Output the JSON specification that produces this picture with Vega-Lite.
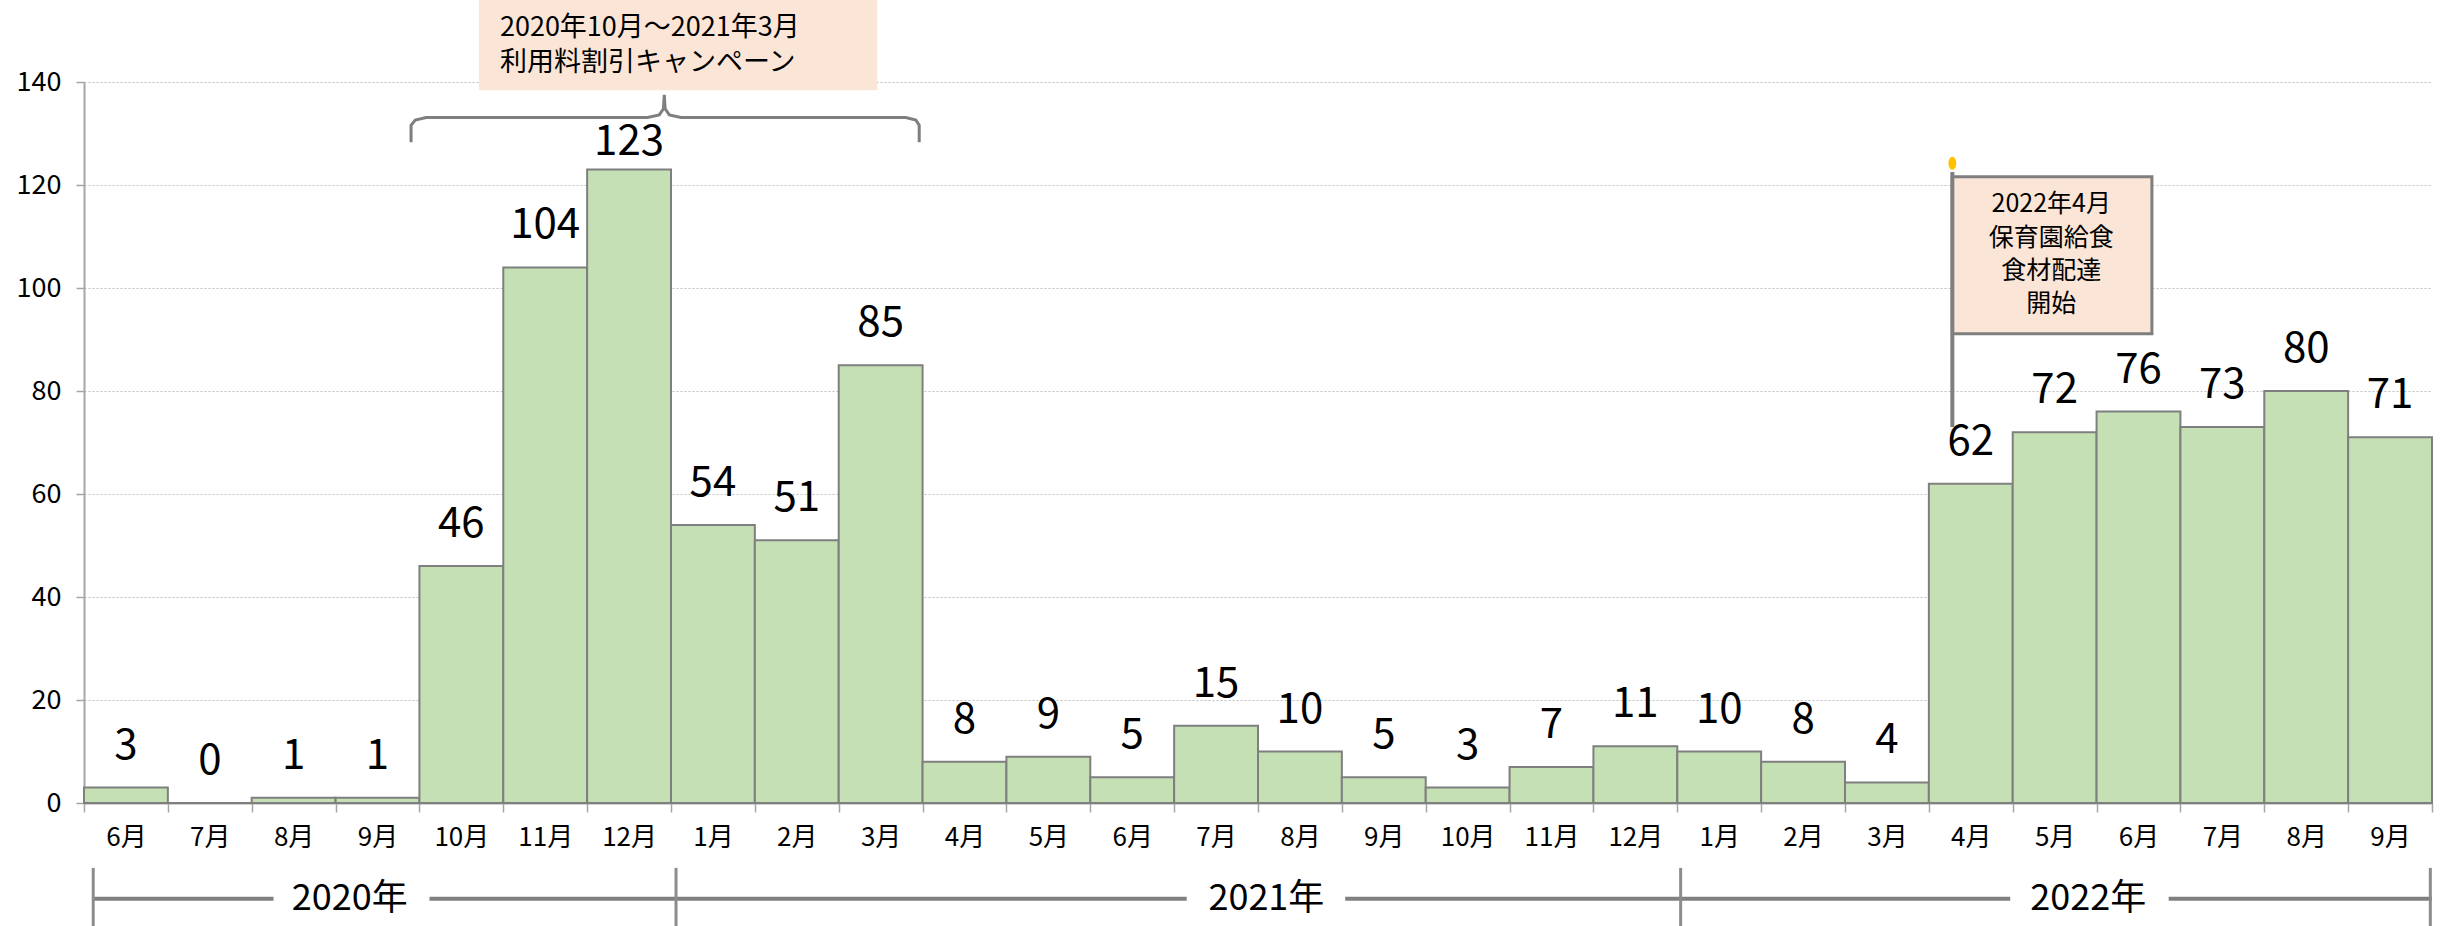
{
  "$schema": "https://vega.github.io/schema/vega-lite/v6.json",
  "width": 2348,
  "height": 721,
  "autosize": {"type": "none"},
  "padding": {"left": 84, "top": 82, "right": 16, "bottom": 123},
  "background": "white",
  "config": {"view": {"stroke": null}, "font": "Noto Sans CJK JP", "text": {"font": "Noto Sans CJK JP"}},
  "datasets": {
    "bars": [
      {"ym": "2020-06", "start": 0, "end": 1, "count": 3},
      {"ym": "2020-07", "start": 1, "end": 2, "count": 0},
      {"ym": "2020-08", "start": 2, "end": 3, "count": 1},
      {"ym": "2020-09", "start": 3, "end": 4, "count": 1},
      {"ym": "2020-10", "start": 4, "end": 5, "count": 46},
      {"ym": "2020-11", "start": 5, "end": 6, "count": 104},
      {"ym": "2020-12", "start": 6, "end": 7, "count": 123},
      {"ym": "2021-01", "start": 7, "end": 8, "count": 54},
      {"ym": "2021-02", "start": 8, "end": 9, "count": 51},
      {"ym": "2021-03", "start": 9, "end": 10, "count": 85},
      {"ym": "2021-04", "start": 10, "end": 11, "count": 8},
      {"ym": "2021-05", "start": 11, "end": 12, "count": 9},
      {"ym": "2021-06", "start": 12, "end": 13, "count": 5},
      {"ym": "2021-07", "start": 13, "end": 14, "count": 15},
      {"ym": "2021-08", "start": 14, "end": 15, "count": 10},
      {"ym": "2021-09", "start": 15, "end": 16, "count": 5},
      {"ym": "2021-10", "start": 16, "end": 17, "count": 3},
      {"ym": "2021-11", "start": 17, "end": 18, "count": 7},
      {"ym": "2021-12", "start": 18, "end": 19, "count": 11},
      {"ym": "2022-01", "start": 19, "end": 20, "count": 10},
      {"ym": "2022-02", "start": 20, "end": 21, "count": 8},
      {"ym": "2022-03", "start": 21, "end": 22, "count": 4},
      {"ym": "2022-04", "start": 22, "end": 23, "count": 62},
      {"ym": "2022-05", "start": 23, "end": 24, "count": 72},
      {"ym": "2022-06", "start": 24, "end": 25, "count": 76},
      {"ym": "2022-07", "start": 25, "end": 26, "count": 73},
      {"ym": "2022-08", "start": 26, "end": 27, "count": 80},
      {"ym": "2022-09", "start": 27, "end": 28, "count": 71}
    ],
    "brace": [
      {"o": 1, "x": 3.9, "y": 128.3},
      {"o": 2, "x": 3.9, "y": 131.6},
      {"o": 3, "x": 3.95, "y": 132.6},
      {"o": 4, "x": 4.08, "y": 133.1},
      {"o": 5, "x": 6.72, "y": 133.1},
      {"o": 6, "x": 6.86, "y": 133.6},
      {"o": 7, "x": 6.91, "y": 134.8},
      {"o": 8, "x": 6.92, "y": 137.5},
      {"o": 9, "x": 6.93, "y": 134.8},
      {"o": 10, "x": 6.98, "y": 133.6},
      {"o": 11, "x": 7.12, "y": 133.1},
      {"o": 12, "x": 9.8, "y": 133.1},
      {"o": 13, "x": 9.92, "y": 132.6},
      {"o": 14, "x": 9.96, "y": 131.6},
      {"o": 15, "x": 9.96, "y": 128.3}
    ],
    "boxes": [
      {"name": "campaign", "x1": 4.71, "x2": 9.46, "y1": 138.4, "y2": 155.9},
      {"name": "start", "x1": 22.28, "x2": 24.66, "y1": 91.1, "y2": 121.6}
    ],
    "campaignText": [
      {"x": 4.96, "y": 150.5, "t": "2020年10月～2021年3月"},
      {"x": 4.96, "y": 143.7, "t": "利用料割引キャンペーン"}
    ],
    "flagText": [
      {"x": 23.46, "y": 116.3, "t": "2022年4月"},
      {"x": 23.46, "y": 109.7, "t": "保育園給食"},
      {"x": 23.46, "y": 103.3, "t": "食材配達"},
      {"x": 23.46, "y": 96.9, "t": "開始"}
    ],
    "pole": [{"x": 22.28, "y1": 73.0, "y2": 122.5, "dotY": 124.2}],
    "yearLines": [
      {"x1": 0.12, "x2": 2.26, "y": -18.6},
      {"x1": 4.12, "x2": 13.15, "y": -18.6},
      {"x1": 15.04, "x2": 22.97, "y": -18.6},
      {"x1": 24.86, "x2": 28.0, "y": -18.6}
    ],
    "yearTicks": [
      {"x": 0.11, "y1": -12.6, "y2": -24.5},
      {"x": 7.06, "y1": -12.6, "y2": -24.5},
      {"x": 19.04, "y1": -12.6, "y2": -24.5},
      {"x": 27.98, "y1": -12.6, "y2": -24.5}
    ],
    "yearText": [
      {"x": 3.17, "y": -18.6, "t": "2020年"},
      {"x": 14.1, "y": -18.6, "t": "2021年"},
      {"x": 23.9, "y": -18.6, "t": "2022年"}
    ]
  },
  "layer": [
    {
      "data": {"name": "bars"},
      "mark": {"type": "rect", "fill": "#c5e0b4", "stroke": "#7f7f7f", "strokeWidth": 2},
      "encoding": {
        "x": {
          "field": "start", "type": "quantitative",
          "scale": {"domain": [0, 28], "nice": false, "zero": false},
          "axis": {
            "values": [0,1,2,3,4,5,6,7,8,9,10,11,12,13,14,15,16,17,18,19,20,21,22,23,24,25,26,27,28],
            "labelExpr": "datum.value < 28 ? (((datum.value + 5) % 12) + 1) + '月' : ''",
            "labelOffset": 41.93,
            "labelAlign": "center",
            "title": null,
            "grid": false,
            "domainColor": "#a6a6a6", "domainWidth": 2,
            "tickColor": "#a6a6a6", "tickWidth": 1.5, "tickSize": 9,
            "labelFontSize": 26, "labelColor": "#000000", "labelPadding": 12,
            "labelFont": "Noto Sans CJK JP",
            "labelOverlap": false, "labelFlush": false, "labelBound": false
          }
        },
        "x2": {"field": "end"},
        "y": {
          "field": "count", "type": "quantitative",
          "scale": {"domain": [0, 140], "nice": false},
          "axis": {
            "values": [0, 20, 40, 60, 80, 100, 120, 140],
            "title": null,
            "grid": true, "gridColor": "#bfbfbf", "gridDash": [2, 2], "gridWidth": 1.2,
            "domainColor": "#a6a6a6", "domainWidth": 2,
            "tickColor": "#a6a6a6", "tickWidth": 1.5, "tickSize": 8,
            "labelFontSize": 27, "labelColor": "#000000", "labelPadding": 15,
            "labelFont": "Noto Sans CJK JP"
          }
        },
        "y2": {"datum": 0}
      }
    },
    {
      "data": {"name": "bars"},
      "transform": [{"filter": "datum.count <= 120"}],
      "mark": {"type": "text", "fontSize": 42, "dx": 41.93, "dy": -42, "baseline": "middle", "align": "center", "color": "#000000"},
      "encoding": {
        "x": {"field": "start", "type": "quantitative"},
        "y": {"field": "count", "type": "quantitative"},
        "text": {"field": "count", "type": "quantitative"}
      }
    },
    {
      "data": {"name": "bars"},
      "transform": [{"filter": "datum.count > 120"}],
      "mark": {"type": "text", "fontSize": 42, "dx": 41.93, "dy": -28, "baseline": "middle", "align": "center", "color": "#000000"},
      "encoding": {
        "x": {"field": "start", "type": "quantitative"},
        "y": {"field": "count", "type": "quantitative"},
        "text": {"field": "count", "type": "quantitative"}
      }
    },
    {
      "data": {"name": "brace"},
      "mark": {"type": "line", "stroke": "#7f7f7f", "strokeWidth": 3, "interpolate": "linear"},
      "encoding": {
        "x": {"field": "x", "type": "quantitative"},
        "y": {"field": "y", "type": "quantitative"},
        "order": {"field": "o", "type": "quantitative"}
      }
    },
    {
      "data": {"name": "boxes"},
      "transform": [{"filter": "datum.name == 'campaign'"}],
      "mark": {"type": "rect", "fill": "#fbe5d6"},
      "encoding": {
        "x": {"field": "x1", "type": "quantitative"},
        "x2": {"field": "x2"},
        "y": {"field": "y1", "type": "quantitative"},
        "y2": {"field": "y2"}
      }
    },
    {
      "data": {"name": "boxes"},
      "transform": [{"filter": "datum.name == 'start'"}],
      "mark": {"type": "rect", "fill": "#fbe5d6", "stroke": "#7f7f7f", "strokeWidth": 3},
      "encoding": {
        "x": {"field": "x1", "type": "quantitative"},
        "x2": {"field": "x2"},
        "y": {"field": "y1", "type": "quantitative"},
        "y2": {"field": "y2"}
      }
    },
    {
      "data": {"name": "campaignText"},
      "mark": {"type": "text", "fontSize": 27, "align": "left", "baseline": "middle", "color": "#000000"},
      "encoding": {
        "x": {"field": "x", "type": "quantitative"},
        "y": {"field": "y", "type": "quantitative"},
        "text": {"field": "t"}
      }
    },
    {
      "data": {"name": "flagText"},
      "mark": {"type": "text", "fontSize": 25, "align": "center", "baseline": "middle", "color": "#000000"},
      "encoding": {
        "x": {"field": "x", "type": "quantitative"},
        "y": {"field": "y", "type": "quantitative"},
        "text": {"field": "t"}
      }
    },
    {
      "data": {"name": "pole"},
      "mark": {"type": "rule", "stroke": "#7f7f7f", "strokeWidth": 4},
      "encoding": {
        "x": {"field": "x", "type": "quantitative"},
        "y": {"field": "y1", "type": "quantitative"},
        "y2": {"field": "y2"}
      }
    },
    {
      "data": {"name": "pole"},
      "mark": {"type": "point", "filled": true, "fill": "#ffc000", "opacity": 1, "strokeWidth": 0, "size": 169, "shape": "M 0 -1 A 0.6 1 0 1 1 0 1 A 0.6 1 0 1 1 0 -1 Z"},
      "encoding": {
        "x": {"field": "x", "type": "quantitative"},
        "y": {"field": "dotY", "type": "quantitative"}
      }
    },
    {
      "data": {"name": "yearLines"},
      "mark": {"type": "rule", "stroke": "#808080", "strokeWidth": 4},
      "encoding": {
        "x": {"field": "x1", "type": "quantitative"},
        "x2": {"field": "x2"},
        "y": {"field": "y", "type": "quantitative"}
      }
    },
    {
      "data": {"name": "yearTicks"},
      "mark": {"type": "rule", "stroke": "#8c8c8c", "strokeWidth": 3},
      "encoding": {
        "x": {"field": "x", "type": "quantitative"},
        "y": {"field": "y1", "type": "quantitative"},
        "y2": {"field": "y2"}
      }
    },
    {
      "data": {"name": "yearText"},
      "mark": {"type": "text", "fontSize": 36, "align": "center", "baseline": "middle", "color": "#000000"},
      "encoding": {
        "x": {"field": "x", "type": "quantitative"},
        "y": {"field": "y", "type": "quantitative"},
        "text": {"field": "t"}
      }
    }
  ]
}
